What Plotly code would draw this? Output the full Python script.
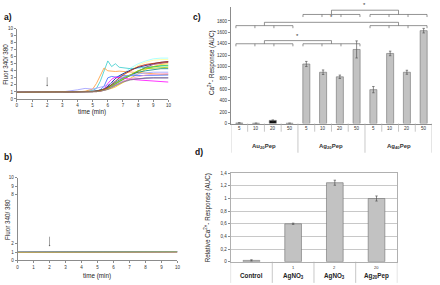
import plotly.graph_objects as go

# ---- panel a: Fluor 340/380 traces (responders) ----
time_a = [0, 1, 2, 3, 4, 4.5, 5, 5.25, 5.5, 5.75, 6, 6.25, 6.5, 6.75, 7, 7.5, 8, 8.5, 9, 9.5, 10]
traces_a = {
    "#99ffff": [0.95, 0.95, 0.97, 0.95, 0.97, 1.0, 1.05, 1.1, 1.2, 1.4, 1.7, 2.1, 2.6, 3.1, 3.6, 4.4, 5.0, 5.4, 5.7, 5.8, 5.8],
    "#ffff99": [0.95, 0.96, 0.98, 0.96, 0.98, 1.0, 1.05, 1.1, 1.2, 1.35, 1.6, 1.9, 2.3, 2.8, 3.3, 4.1, 4.8, 5.2, 5.5, 5.6, 5.6],
    "#33cccc": [0.95, 0.95, 0.98, 0.97, 1.0, 1.05, 1.2, 1.5, 2.5, 4.0, 5.4, 4.6, 5.0, 4.5, 4.4, 4.3, 4.4, 4.5, 4.6, 4.7, 4.8],
    "#ff9933": [0.95, 0.95, 0.98, 0.97, 1.0, 1.1, 1.4, 2.2, 3.3, 4.4, 4.0, 3.9, 3.9, 3.95, 3.9, 3.8, 3.7, 3.6, 3.5, 3.5, 3.5],
    "#000080": [0.95, 0.95, 0.97, 0.95, 0.97, 1.0, 1.05, 1.1, 1.2, 1.4, 1.8, 2.4, 2.9, 3.3, 3.6, 4.1, 4.5, 4.8, 5.0, 5.2, 5.3],
    "#993366": [0.95, 0.95, 0.97, 0.96, 1.0, 1.05, 1.1, 1.15, 1.25, 1.4, 1.6, 1.9, 2.2, 2.5, 2.8, 3.4, 4.0, 4.5, 4.9, 5.1, 5.2],
    "#ffcc00": [0.95, 0.95, 0.98, 0.96, 0.98, 1.0, 1.0, 1.05, 1.1, 1.2, 1.3, 1.5, 1.7, 2.0, 2.3, 2.9, 3.6, 4.2, 4.6, 4.9, 5.0],
    "#33cc33": [0.95, 0.95, 0.97, 0.96, 0.98, 1.0, 1.05, 1.1, 1.2, 1.3, 1.5, 1.8, 2.1, 2.4, 2.8, 3.4, 4.0, 4.4, 4.6, 4.7, 4.7],
    "#3366ff": [0.95, 0.95, 0.98, 0.96, 1.0, 1.0, 1.05, 1.1, 1.3, 1.8, 3.0, 3.2, 3.1, 3.2, 3.3, 3.3, 3.3, 3.3, 3.3, 3.4, 3.4],
    "#6633cc": [0.95, 0.95, 0.97, 0.96, 0.98, 1.0, 1.0, 1.05, 1.1, 1.2, 1.4, 1.7, 2.0, 2.3, 2.5, 2.8, 2.9, 3.0, 3.0, 3.0, 3.0],
    "#ff00ff": [0.95, 0.95, 0.98, 0.96, 0.98, 1.0, 1.0, 1.05, 1.1, 1.4, 2.2, 2.8, 3.1, 3.0, 2.9, 2.8, 2.7, 2.6, 2.5, 2.4, 2.4],
    "#ff99cc": [0.95, 0.95, 0.97, 0.96, 0.98, 1.0, 1.0, 1.05, 1.1, 1.2, 1.4, 1.6, 1.9, 2.2, 2.5, 2.9, 3.2, 3.4, 3.5, 3.6, 3.6],
    "#008080": [0.95, 0.95, 0.97, 0.96, 0.98, 1.0, 1.05, 1.1, 1.2, 1.4, 1.7, 2.0, 2.4, 2.7, 3.0, 3.4, 3.8, 4.0, 4.2, 4.3, 4.3],
    "#9999ff": [0.95, 0.95, 0.98, 1.0, 1.3, 1.5, 1.4, 1.5, 1.6, 1.8, 2.0, 2.3, 2.6, 2.9, 3.1, 3.4, 3.6, 3.7, 3.8, 3.8, 3.8],
    "#99cc00": [0.95, 0.95, 0.97, 0.96, 0.98, 1.0, 1.0, 1.05, 1.15, 1.3, 1.5, 1.8, 2.1, 2.5, 2.9, 3.5, 4.0, 4.3, 4.4, 4.5, 4.5],
    "#cc3300": [0.95, 0.95, 0.97, 0.96, 0.98, 1.0, 1.05, 1.1, 1.2, 1.35, 1.6, 2.0, 2.5, 3.0, 3.4, 4.0, 4.6, 4.9, 5.1, 5.2, 5.3],
    "#808080": [0.95, 0.95, 0.97, 0.96, 0.98, 1.0, 1.0, 1.05, 1.1, 1.2, 1.35, 1.6, 1.9, 2.2, 2.4, 2.7, 2.9, 3.0, 3.0, 3.0, 3.0],
}

# ---- panel b: non-responders ----
time_b = [0, 1, 2, 3, 4, 5, 6, 7, 8, 9, 10]
traces_b = {
    "#000080": [1.0, 1.0, 1.02, 1.0, 1.0, 1.02, 1.03, 1.05, 1.05, 1.05, 1.06],
    "#ff00ff": [0.97, 0.98, 1.0, 0.98, 0.97, 0.99, 1.0, 1.0, 1.02, 1.0, 1.02],
    "#6633cc": [0.99, 1.0, 1.01, 0.99, 0.99, 1.0, 1.02, 1.03, 1.03, 1.04, 1.04],
    "#33cc33": [0.98, 0.99, 1.0, 0.99, 0.98, 1.0, 1.01, 1.02, 1.03, 1.02, 1.03],
    "#33cccc": [0.99, 0.99, 1.01, 1.0, 0.99, 1.01, 1.02, 1.02, 1.04, 1.03, 1.05],
    "#ff9933": [0.98, 0.99, 1.0, 0.99, 0.99, 1.0, 1.0, 1.01, 1.02, 1.02, 1.02],
}

# ---- panel c: AUC per dose ----
c_groups = ["Au<sub>20</sub>Pep", "Ag<sub>20</sub>Pep", "Ag<sub>40</sub>Pep"]
c_doses = ["5", "10", "20", "50"]
c_values = [10, 5, 55, 5, 1045, 900, 820, 1300, 595, 1230, 900, 1630]
c_errors = [3, 2, 8, 2, 45, 40, 30, 150, 55, 40, 35, 40]

# ---- panel d: relative response ----
d_labels = ["Control", "AgNO<sub>3</sub>", "AgNO<sub>3</sub>", "Ag<sub>20</sub>Pep"]
d_doses = ["", "1", "2", "20"]
d_values = [0.02, 0.6, 1.25, 1.0]
d_errors = [0.01, 0.01, 0.04, 0.04]

FONT = "Liberation Sans, Arial, sans-serif"
W, H = 440, 285
LINE = "#8c8c8c"


def px(x):
    return x / W


def py(y):
    return 1 - y / H


fig = go.Figure()

for col, ys in traces_a.items():
    fig.add_trace(go.Scatter(x=time_a, y=ys, mode="lines", line=dict(color=col, width=0.8),
                             xaxis="x", yaxis="y", showlegend=False))
for col, ys in traces_b.items():
    fig.add_trace(go.Scatter(x=time_b, y=ys, mode="lines", line=dict(color=col, width=0.8),
                             xaxis="x2", yaxis="y2", showlegend=False))

c_x = list(range(len(c_values)))
c_colors = ["#111111"] * 4 + ["#c2c2c2"] * 8
fig.add_trace(go.Bar(x=c_x, y=c_values, width=0.42, xaxis="x3", yaxis="y3",
                     marker=dict(color=c_colors, line=dict(color="#6e6e6e", width=0.6)),
                     error_y=dict(type="data", array=c_errors, color="#555", thickness=0.7, width=1.2),
                     showlegend=False))

d_x = list(range(len(d_values)))
fig.add_trace(go.Bar(x=d_x, y=d_values, width=0.4, xaxis="x4", yaxis="y4",
                     marker=dict(color="#c2c2c2", line=dict(color="#6e6e6e", width=0.6)),
                     error_y=dict(type="data", array=d_errors, color="#555", thickness=0.7, width=1.2),
                     showlegend=False))

tickfont = dict(family=FONT, size=4.5, color="#333")
ax_common = dict(showline=True, linecolor=LINE, linewidth=0.8, ticks="outside", ticklen=2,
                 tickcolor=LINE, tickfont=tickfont, showgrid=False, zeroline=False)

fig.update_layout(
    width=W, height=H, margin=dict(l=0, r=0, t=0, b=0),
    paper_bgcolor="white", plot_bgcolor="white",
    font=dict(family=FONT, color="#222"),
    xaxis=dict(domain=[px(16), px(169)], range=[0, 10], tickvals=list(range(11)), anchor="y", **ax_common),
    yaxis=dict(domain=[py(98.7), py(27)], range=[0, 10], tickvals=list(range(11)), anchor="x", **ax_common),
    xaxis2=dict(domain=[px(16.7), px(178)], range=[0, 10], tickvals=list(range(11)), anchor="y2", **ax_common),
    yaxis2=dict(domain=[py(263), py(179)], range=[0, 10], tickvals=[0, 1, 2, 8, 9, 10], anchor="x2", **ax_common),
    xaxis3=dict(domain=[px(232), px(435)], range=[-0.5, 11.5], anchor="y3", showticklabels=False,
                showline=True, linecolor=LINE, linewidth=0.8, ticks="", showgrid=False, zeroline=False),
    yaxis3=dict(domain=[py(123.7), py(4.8)], range=[0, 2050], tickvals=list(range(0, 1801, 200)), anchor="x3",
                **ax_common),
    xaxis4=dict(domain=[px(231.7), px(400)], range=[-0.5, 3.5], anchor="y4", showticklabels=False,
                showline=True, mirror=True, linecolor="#b0b0b0", linewidth=0.8, ticks="", showgrid=False,
                zeroline=False),
    yaxis4=dict(domain=[py(264.3), py(174.3)], range=[0, 1.4], anchor="x4",
                tickvals=[0, 0.2, 0.4, 0.6, 0.8, 1.0, 1.2, 1.4],
                ticktext=["0", "0,2", "0,4", "0,6", "0,8", "1", "1,2", "1,4"],
                showline=True, mirror=True, linecolor="#b0b0b0", linewidth=0.8, ticks="outside", ticklen=2,
                tickcolor=LINE, tickfont=tickfont, showgrid=True, gridcolor="#c8c8c8", gridwidth=0.7,
                zeroline=False),
)

ann = []
shapes = []
mid = dict(xanchor="center", yanchor="middle", showarrow=False)

# panel labels
for txt, x, y in [("a)", 7, 15), ("b)", 7, 158), ("c)", 198, 15), ("d)", 200, 153)]:
    ann.append(dict(text="<b>%s</b>" % txt, x=px(x), y=py(y), xref="paper", yref="paper",
                    font=dict(size=8.5, color="#111"), **mid))

# axis titles
title_font = dict(size=6.3, color="#222")
ann += [
    dict(text="Fluor 340/ 380", x=px(5), y=py(63), xref="paper", yref="paper", textangle=-90,
         font=title_font, **mid),
    dict(text="time (min)", x=px(92), y=py(112), xref="paper", yref="paper", font=title_font, **mid),
    dict(text="Fluor 340/ 380", x=px(6), y=py(221), xref="paper", yref="paper", textangle=-90,
         font=title_font, **mid),
    dict(text="time (min)", x=px(97), y=py(279), xref="paper", yref="paper", font=title_font, **mid),
    dict(text="Ca<sup>2+</sup>- Response (AUC)", x=px(213), y=py(62), xref="paper", yref="paper",
         textangle=-90, font=title_font, **mid),
    dict(text="Relative Ca<sup>2+</sup>- Response (AUC)", x=px(208), y=py(220), xref="paper", yref="paper",
         textangle=-90, font=title_font, **mid),
]

# addition arrows at t = 2 min
for xr, yr, top, tip in [("x", "y", 3.3, 1.9), ("x2", "y2", 3.05, 1.8)]:
    ann.append(dict(x=2, y=tip, ax=2, ay=top, xref=xr, yref=yr, axref=xr, ayref=yr, text="",
                    showarrow=True, arrowhead=6, arrowsize=0.6, arrowwidth=0.6, arrowcolor="#666"))

# panel c category axis
for i in c_x:
    ann.append(dict(text=c_doses[i % 4], x=i, y=-0.045, xref="x3", yref="y3 domain",
                    font=dict(size=4.5, color="#333"), **mid))
for g, name in enumerate(c_groups):
    ann.append(dict(text="<b>%s</b>" % name, x=4 * g + 1.5, y=-0.2, xref="x3", yref="y3 domain",
                    font=dict(size=6, color="#333"), **mid))
for k in range(13):
    edge = k % 4 == 0
    shapes.append(dict(type="line", xref="x3", yref="y3 domain", x0=k - 0.5, x1=k - 0.5, y0=0,
                       y1=-0.25 if edge else -0.07, line=dict(color="#b0b0b0", width=0.7)))

# significance brackets in panel c
sig = [(0, 1, 1400, 1455), (0, 2, 1718, 1776), (1, 2, 1914, 1989)]
drop = 45
for ga, gb, ylev, yc in sig:
    centers = []
    for g in (ga, gb):
        x0, x1 = 4 * g - 0.2, 4 * g + 3.2
        path = "M %g,%g L %g,%g" % (x0, ylev, x1, ylev)
        for k in range(4):
            xk = x0 + (x1 - x0) * k / 3
            path += " M %g,%g L %g,%g" % (xk, ylev, xk, ylev - drop)
        shapes.append(dict(type="path", path=path, xref="x3", yref="y3", line=dict(color="#666", width=0.7)))
        centers.append((x0 + x1) / 2)
    xa, xb = centers
    shapes.append(dict(type="path", xref="x3", yref="y3", line=dict(color="#666", width=0.7),
                       path="M %g,%g L %g,%g L %g,%g L %g,%g" % (xa, ylev, xa, yc, xb, yc, xb, ylev)))
    ann.append(dict(text="*", x=(xa + xb) / 2, y=yc, xref="x3", yref="y3", xanchor="center",
                    yanchor="bottom", showarrow=False, font=dict(size=6, color="#333")))

# panel d category axis
for i in d_x:
    if d_doses[i]:
        ann.append(dict(text=d_doses[i], x=i, y=-0.065, xref="x4", yref="y4 domain",
                        font=dict(size=4, color="#333"), **mid))
    ann.append(dict(text="<b>%s</b>" % d_labels[i], x=i, y=-0.16, xref="x4", yref="y4 domain",
                    font=dict(size=6.3, color="#222"), **mid))
for k in range(5):
    shapes.append(dict(type="line", xref="x4", yref="y4 domain", x0=k - 0.5, x1=k - 0.5, y0=0, y1=-0.24,
                       line=dict(color="#b0b0b0", width=0.7)))

fig.update_layout(annotations=ann, shapes=shapes)
# page body has a default 8px margin; drop it so the figure sits at the window origin
fig.write_html("out.html", config={"displayModeBar": False},
               post_script="document.body.style.margin='0';")
